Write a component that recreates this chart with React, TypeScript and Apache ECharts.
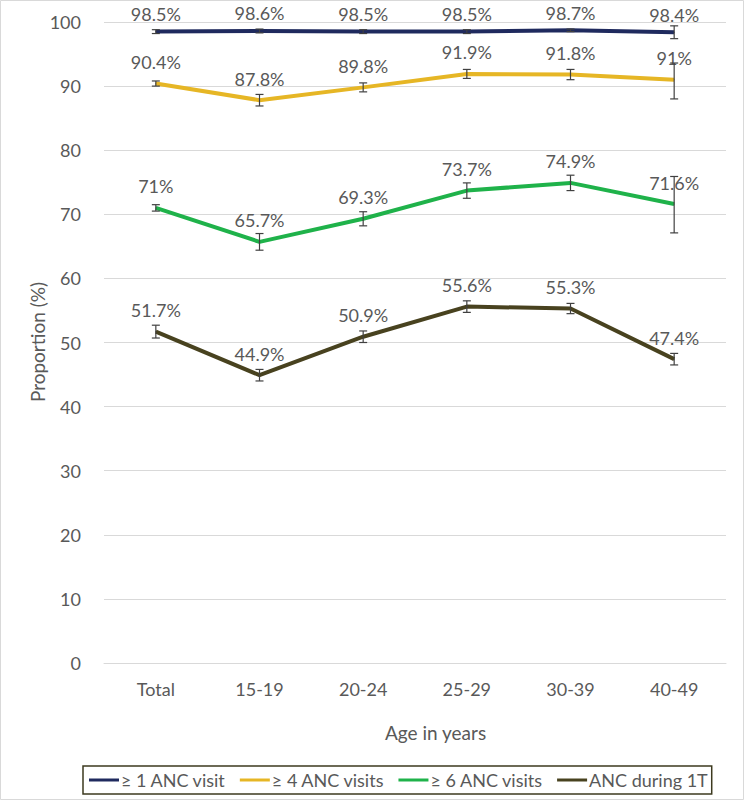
import React, { useEffect, useRef } from "react";
import * as echarts from "echarts";

const categories = ["Total", "15-19", "20-24", "25-29", "30-39", "40-49"];
const seriesNames = ["≥ 1 ANC visit", "≥ 4 ANC visits", "≥ 6 ANC visits", "ANC during 1T"];
const colors = ["#1f2a5e", "#e6b625", "#1fb24a", "#48421f"];

const anc1 = [98.5, 98.6, 98.5, 98.5, 98.7, 98.4];
const anc1Low = [98.2, 98.3, 98.2, 98.2, 98.5, 97.4];
const anc1High = [98.8, 98.9, 98.8, 98.8, 98.9, 99.4];

const anc4 = [90.4, 87.8, 89.8, 91.9, 91.8, 91.0];
const anc4Low = [90.0, 86.9, 89.1, 91.2, 91.0, 88.0];
const anc4High = [90.8, 88.7, 90.5, 92.6, 92.6, 93.6];

const anc6 = [71.0, 65.7, 69.3, 73.7, 74.9, 71.6];
const anc6Low = [70.5, 64.4, 68.2, 72.5, 73.7, 67.1];
const anc6High = [71.5, 67.0, 70.4, 74.9, 76.1, 75.9];

const anc1T = [51.7, 44.9, 50.9, 55.6, 55.3, 47.4];
const anc1TLow = [50.7, 44.0, 50.0, 54.7, 54.5, 46.5];
const anc1THigh = [52.7, 45.8, 51.8, 56.5, 56.1, 48.3];

const yTicks = { min: 0, max: 100, interval: 10 };

const values = [anc1, anc4, anc6, anc1T];
const lows = [anc1Low, anc4Low, anc6Low, anc1TLow];
const highs = [anc1High, anc4High, anc6High, anc1THigh];

const FONT = "Lato, 'Open Sans', sans-serif";
const TEXT = "#595959";

export default function App() {
  const ref = useRef<HTMLDivElement>(null);
  useEffect(() => {
    if (!ref.current) return;
    const chart = echarts.init(ref.current, null, { renderer: "svg" });
    const lineSeries = values.map((vals, i) => ({
      name: seriesNames[i],
      type: "line",
      data: vals,
      symbol: "circle",
      symbolSize: 1,
      showSymbol: true,
      itemStyle: { color: colors[i] },
      lineStyle: { color: colors[i], width: 4 },
      z: 2,
      label: {
        show: true,
        position: "top",
        distance: i === 0 ? 8 : 12,
        formatter: (p: any) => `${p.value}%`,
        color: TEXT,
        fontSize: 18,
        fontFamily: FONT,
      },
    }));
    const errSeries = values.map((vals, i) => ({
      name: seriesNames[i] + " err",
      type: "custom",
      data: vals.map((_, j) => [j, lows[i][j], highs[i][j]]),
      z: 3,
      renderItem: (params: any, api: any) => {
        const x = api.value(0);
        const lo = api.coord([x, api.value(1)]);
        const hi = api.coord([x, api.value(2)]);
        const cw = 4;
        const style = { stroke: "#404040", lineWidth: 1.2 };
        return {
          type: "group",
          children: [
            { type: "line", shape: { x1: lo[0], y1: lo[1], x2: hi[0], y2: hi[1] }, style },
            { type: "line", shape: { x1: lo[0] - cw, y1: lo[1], x2: lo[0] + cw, y2: lo[1] }, style },
            { type: "line", shape: { x1: hi[0] - cw, y1: hi[1], x2: hi[0] + cw, y2: hi[1] }, style },
          ],
        };
      },
      encode: { x: 0, y: [1, 2] },
      silent: true,
    }));
    chart.setOption({
      animation: false,
      backgroundColor: "#ffffff",
      grid: { left: 104, right: 18, top: 22, bottom: 137 },
      xAxis: {
        type: "category",
        data: categories,
        boundaryGap: true,
        axisLine: { show: true, lineStyle: { color: "#d9d9d9", width: 1 } },
        axisTick: { show: false },
        axisLabel: { color: TEXT, fontSize: 18, fontFamily: FONT, margin: 17 },
      },
      yAxis: {
        type: "value",
        min: yTicks.min,
        max: yTicks.max,
        interval: yTicks.interval,
        axisLine: { show: false },
        axisTick: { show: false },
        splitLine: { lineStyle: { color: "#d9d9d9", width: 1 } },
        axisLabel: { color: TEXT, fontSize: 18, fontFamily: FONT, margin: 23 },
      },
      legend: {
        data: seriesNames.map((n, i) => ({ name: n, itemStyle: { color: colors[i] } })),
        bottom: 6,
        left: 83,
        itemWidth: 30,
        itemHeight: 3,
        itemGap: 14,
        icon: "rect",
        borderColor: "#3d3a1f",
        borderWidth: 1.5,
        borderRadius: 0,
        padding: [5, 4, 5, 6],
        textStyle: { color: TEXT, fontSize: 18, fontFamily: FONT, padding: [0, 0, 0, -3] },
      },
      graphic: [
        {
          type: "text",
          left: 385,
          top: 723,
          style: { text: "Age in years", fill: TEXT, font: `19px ${FONT}` },
        },
        {
          type: "text",
          x: 37,
          y: 342,
          rotation: Math.PI / 2,
          style: {
            text: "Proportion (%)",
            fill: TEXT,
            font: `19px ${FONT}`,
            align: "center",
            verticalAlign: "middle",
          },
        },
        {
          type: "rect",
          shape: { x: 0.5, y: 0.5, width: 743, height: 799 },
          style: { fill: "none", stroke: "#d9d9d9", lineWidth: 1 },
          silent: true,
        },
      ],
      series: [...lineSeries, ...errSeries],
    });
    return () => chart.dispose();
  }, []);
  return (
    <div
      ref={ref}
      style={{ position: "fixed", left: 0, top: 0, width: 744, height: 800 }}
    />
  );
}
